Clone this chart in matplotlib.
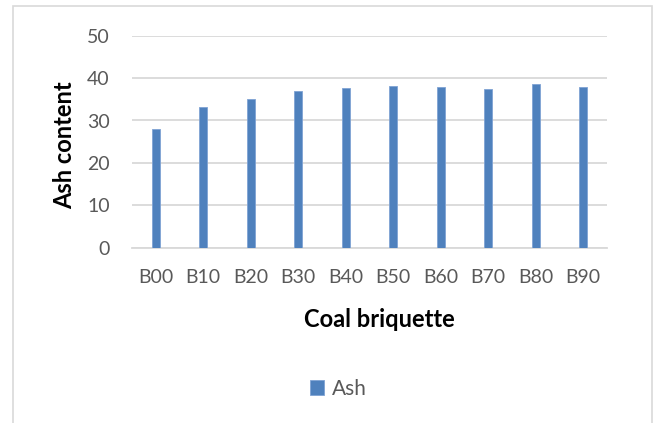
import matplotlib.pyplot as plt
from matplotlib.patches import Rectangle

# datos
briquettes = ['B00', 'B10', 'B20', 'B30', 'B40', 'B50', 'B60', 'B70', 'B80', 'B90']
ash_values = [27.9, 33.1, 35.1, 36.9, 37.6, 38.1, 38.0, 37.5, 38.5, 37.9]
y_ticks = [0, 10, 20, 30, 40, 50]

BAR_COLOR = '#4F81BD'
TEXT_GRAY = '#595959'
GRID_COLOR = '#D9D9D9'

plt.rcParams['font.family'] = ['Lato', 'DejaVu Sans']

fig = plt.figure(figsize=(6.54, 4.23), dpi=100)
fig.patch.set_facecolor('white')
ax = fig.add_axes([132 / 654, 1 - 247.7 / 423, 475 / 654, 212 / 423])

x = range(len(briquettes))
ax.bar(x, ash_values, width=0.17, color=BAR_COLOR, edgecolor='#7FA3D4',
       linewidth=0.6, label='Ash', zorder=3)

ax.set_xlim(-0.5, len(briquettes) - 0.5)
ax.set_ylim(0, 50)
ax.set_yticks(y_ticks)
ax.set_xticks(list(x))
ax.set_xticklabels(briquettes)
ax.tick_params(axis='both', length=0, labelsize=14, labelcolor=TEXT_GRAY)
ax.tick_params(axis='x', pad=15)
ax.tick_params(axis='y', pad=16)

ax.grid(True, axis='y', color=GRID_COLOR, linewidth=1.3, zorder=0)
for side in ['top', 'right', 'left']:
    ax.spines[side].set_visible(False)
ax.spines['bottom'].set_color(GRID_COLOR)
ax.spines['bottom'].set_linewidth(1.3)

ax.set_xlabel('Coal briquette', fontsize=17, fontweight='bold', va='center')
ax.xaxis.set_label_coords((379 - 132) / 475, (247.7 - 319) / 212)
ax.set_ylabel('Ash content', fontsize=17, fontweight='bold', va='center')
ax.yaxis.set_label_coords((65 - 132) / 475, (247.7 - 145) / 212)

# leyenda abajo
leg = fig.legend(loc='center', bbox_to_anchor=(338 / 654, 1 - 389 / 423),
                 frameon=False, fontsize=15, handlelength=0.7, handleheight=0.7,
                 handletextpad=0.35)
for t in leg.get_texts():
    t.set_color(TEXT_GRAY)

# marco del grafico
fig.patches.append(Rectangle((13 / 654, -0.05), 639 / 654, 1.05 - 6 / 423,
                             transform=fig.transFigure, fill=False,
                             edgecolor=GRID_COLOR, linewidth=1.2))

plt.savefig('out.png', dpi=100, facecolor='white')
plt.close()
